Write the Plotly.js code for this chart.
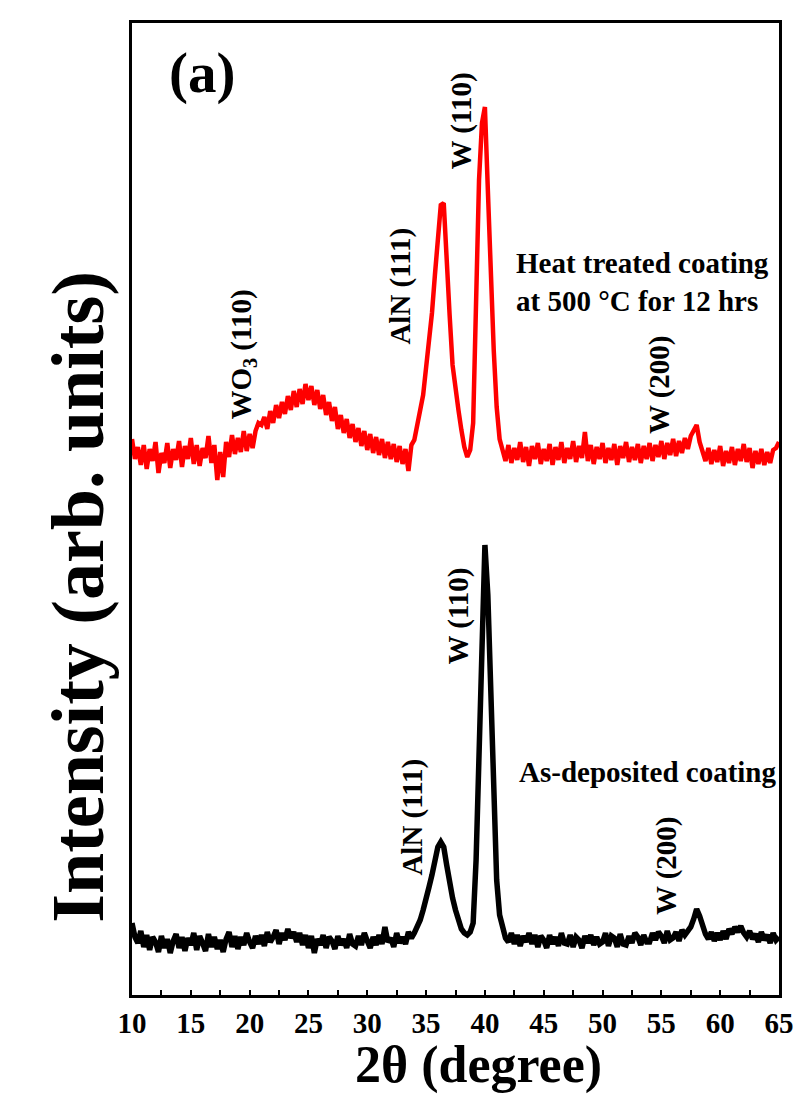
<!DOCTYPE html>
<html>
<head>
<meta charset="utf-8">
<script src="https://cdn.plot.ly/plotly-3.0.1.min.js"></script>
<style>
html,body{margin:0;padding:0;background:#fff;}
#chart{width:798px;height:1115px;}
</style>
</head>
<body>
<div id="chart"></div>
<script>
// 2θ (degree) sampling positions
var angle = [
10.00,10.25,10.50,10.75, 11.00,11.25,11.50,11.75, 12.00,12.25,12.50,12.75, 13.00,13.25,13.50,13.75,
14.00,14.25,14.50,14.75, 15.00,15.25,15.50,15.75, 16.00,16.25,16.50,16.75, 17.00,17.25,17.50,17.75,
18.00,18.25,18.50,18.75, 19.00,19.25,19.50,19.75, 20.00,20.25,20.50,20.75, 21.00,21.25,21.50,21.75,
22.00,22.25,22.50,22.75, 23.00,23.25,23.50,23.75, 24.00,24.25,24.50,24.75, 25.00,25.25,25.50,25.75,
26.00,26.25,26.50,26.75, 27.00,27.25,27.50,27.75, 28.00,28.25,28.50,28.75, 29.00,29.25,29.50,29.75,
30.00,30.25,30.50,30.75, 31.00,31.25,31.50,31.75, 32.00,32.25,32.50,32.75, 33.00,33.25,33.50,33.75,
34.00,34.25,34.50,34.75, 35.00,35.25,35.50,35.75, 36.00,36.25,36.50,36.75, 37.00,37.25,37.50,37.75,
38.00,38.25,38.50,38.75, 39.00,39.25,39.50,39.75, 40.00,40.25,40.50,40.75, 41.00,41.25,41.50,41.75,
42.00,42.25,42.50,42.75, 43.00,43.25,43.50,43.75, 44.00,44.25,44.50,44.75, 45.00,45.25,45.50,45.75,
46.00,46.25,46.50,46.75, 47.00,47.25,47.50,47.75, 48.00,48.25,48.50,48.75, 49.00,49.25,49.50,49.75,
50.00,50.25,50.50,50.75, 51.00,51.25,51.50,51.75, 52.00,52.25,52.50,52.75, 53.00,53.25,53.50,53.75,
54.00,54.25,54.50,54.75, 55.00,55.25,55.50,55.75, 56.00,56.25,56.50,56.75, 57.00,57.25,57.50,57.75,
58.00,58.25,58.50,58.75, 59.00,59.25,59.50,59.75, 60.00,60.25,60.50,60.75, 61.00,61.25,61.50,61.75,
62.00,62.25,62.50,62.75, 63.00,63.25,63.50,63.75, 64.00,64.25,64.50,64.75, 65.00
];

// Heat treated coating (offset curve, arb. units)
var heatTreated = [
556,536,548,530, 550,526,546,534, 553,522,542,532, 552,527,546,535,
554,528,549,536, 557,531,550,529, 547,537,559,532, 550,515,543,518,
553,538,560,541, 557,543,564,544, 561,547,564,572, 570,578,566,584,
572,590,577,593, 581,599,585,604, 588,606,591,611, 595,609,590,605,
586,600,580,593, 574,588,566,580, 562,576,557,571, 553,567,549,564,
545,561,542,558, 540,556,537,553, 536,551,533,549, 531,546,524,550,
555,568,585,600, 625,650,682,720, 760,790,792,730, 680,630,605,585,
565,548,538,545, 572,680,815,872, 888,805,715,645, 588,556,545,534,
550,532,547,535, 553,533,548,529, 549,536,552,531, 546,534,551,530,
548,535,553,532, 547,536,554,533, 549,537,563,534, 550,531,548,536,
552,532,547,535, 551,530,549,537, 553,533,548,535, 551,532,549,536,
552,534,550,538, 554,536,552,540, 556,539,554,542, 557,546,559,565,
570,553,544,534, 547,531,545,533, 549,529,544,532, 548,530,546,534,
551,533,547,527, 544,531,546,530, 543,532,545,547, 553
];

// As-deposited coating (arb. units)
var asDeposited = [
72,58,52,64, 48,60,45,58, 53,43,59,47, 56,42,54,61,
47,58,44,57, 50,62,45,59, 52,44,61,48, 58,46,55,43,
56,63,48,59, 46,58,50,62, 53,47,59,51, 60,49,63,53,
58,65,51,62, 55,66,57,63, 53,62,50,60, 47,59,42,56,
50,60,47,58, 54,46,59,50, 56,47,61,51, 49,59,50,62,
54,47,58,50, 60,51,68,53, 57,48,62,52, 58,51,63,57,
62,68,75,85, 95,108,120,135, 148,153,148,130, 110,97,85,75,
66,62,60,63, 72,135,255,372, 450,400,290,190, 115,80,65,57,
53,62,51,60, 49,59,53,62, 51,60,48,59, 55,47,60,51,
58,49,62,52, 51,60,48,58, 55,47,59,52, 60,50,58,51,
53,62,49,59, 57,48,61,51, 50,59,52,62, 58,50,60,53,
53,62,55,63, 59,52,64,55, 57,63,54,65, 60,65,68,76,
86,79,68,61, 56,63,54,62, 55,64,56,66, 61,68,63,69,
62,58,64,56, 61,53,63,55, 60,52,62,55, 58
];

var xTicks = [10,15,20,25,30,35,40,45,50,55,60,65];

var peakLabels = ["WO<sub>3</sub> (110)", "AlN (111)", "W (110)", "W (200)", "W (110)", "AlN (111)", "W (200)"];
var peakLabelX = [19.4, 32.75, 38.0, 54.8, 37.67, 33.77, 55.4];
var peakLabelY = [640, 709, 874, 610, 379, 178, 129];

var curveNames = ["Heat treated coating<br>at 500 °C for 12 hrs", "As-deposited coating"];
var curveNameX = [42.5, 42.7];
var curveNameY = [713, 223];

var xTitle = "2θ (degree)";
var yTitle = "Intensity (arb. units)";
var panelLabel = "(a)";

var serif = "'Times New Roman', 'Liberation Serif', 'DejaVu Serif', serif";

var traces = [
  {x: angle, y: heatTreated, type: 'scatter', mode: 'lines', name: 'Heat treated',
   line: {color: '#ff0000', width: 4.5}},
  {x: angle, y: asDeposited, type: 'scatter', mode: 'lines', name: 'As-deposited',
   line: {color: '#000000', width: 5.5}}
];

var annotations = [];
for (var i = 0; i < peakLabels.length; i++) {
  annotations.push({x: peakLabelX[i], y: peakLabelY[i], xref: 'x', yref: 'y',
    text: '<b>' + peakLabels[i] + '</b>', textangle: -90, showarrow: false,
    xanchor: 'center', yanchor: 'middle',
    font: {family: serif, size: 29, color: '#000'}});
}
for (var j = 0; j < curveNames.length; j++) {
  annotations.push({x: curveNameX[j], y: curveNameY[j], xref: 'x', yref: 'y',
    text: '<b>' + curveNames[j] + '</b>', showarrow: false, align: 'left',
    xanchor: 'left', yanchor: 'middle',
    font: {family: serif, size: 29, color: '#000'}});
}
annotations.push({x: 13.0, y: 922, xref: 'x', yref: 'y', text: '<b>' + panelLabel + '</b>', showarrow: false,
  xanchor: 'left', yanchor: 'middle', font: {family: serif, size: 57, color: '#000'}});
// axis titles placed at the reference's positions
annotations.push({x: -0.083, y: 0.41, xref: 'paper', yref: 'paper', text: '<b>' + yTitle + '</b>',
  textangle: -90, showarrow: false, xanchor: 'center', yanchor: 'middle',
  font: {family: serif, size: 74, color: '#000'}});
annotations.push({x: 0.535, y: -0.072, xref: 'paper', yref: 'paper', text: '<b>' + xTitle + '</b>',
  showarrow: false, xanchor: 'center', yanchor: 'middle',
  font: {family: serif, size: 52, color: '#000'}});

var layout = {
  width: 798, height: 1115,
  margin: {l: 132, r: 19, t: 23, b: 120},
  paper_bgcolor: '#ffffff', plot_bgcolor: '#ffffff',
  showlegend: false,
  xaxis: {
    range: [10, 65], tickvals: xTicks, ticktext: xTicks.map(String),
    ticks: 'inside', ticklen: 5, tickwidth: 2, tickcolor: '#000',
    minor: {dtick: 2.5, tick0: 10, ticks: 'inside', ticklen: 5, tickwidth: 2, tickcolor: '#000'},
    showline: true, linewidth: 3, linecolor: '#000', mirror: true,
    showgrid: false, zeroline: false,
    tickfont: {family: serif, size: 29, color: '#000', weight: 'bold'}
  },
  yaxis: {
    range: [0, 972], showticklabels: false, ticks: '',
    showline: true, linewidth: 3, linecolor: '#000', mirror: true,
    showgrid: false, zeroline: false
  },
  annotations: annotations
};

Plotly.newPlot('chart', traces, layout, {displayModeBar: false, staticPlot: true});
</script>
</body>
</html>
